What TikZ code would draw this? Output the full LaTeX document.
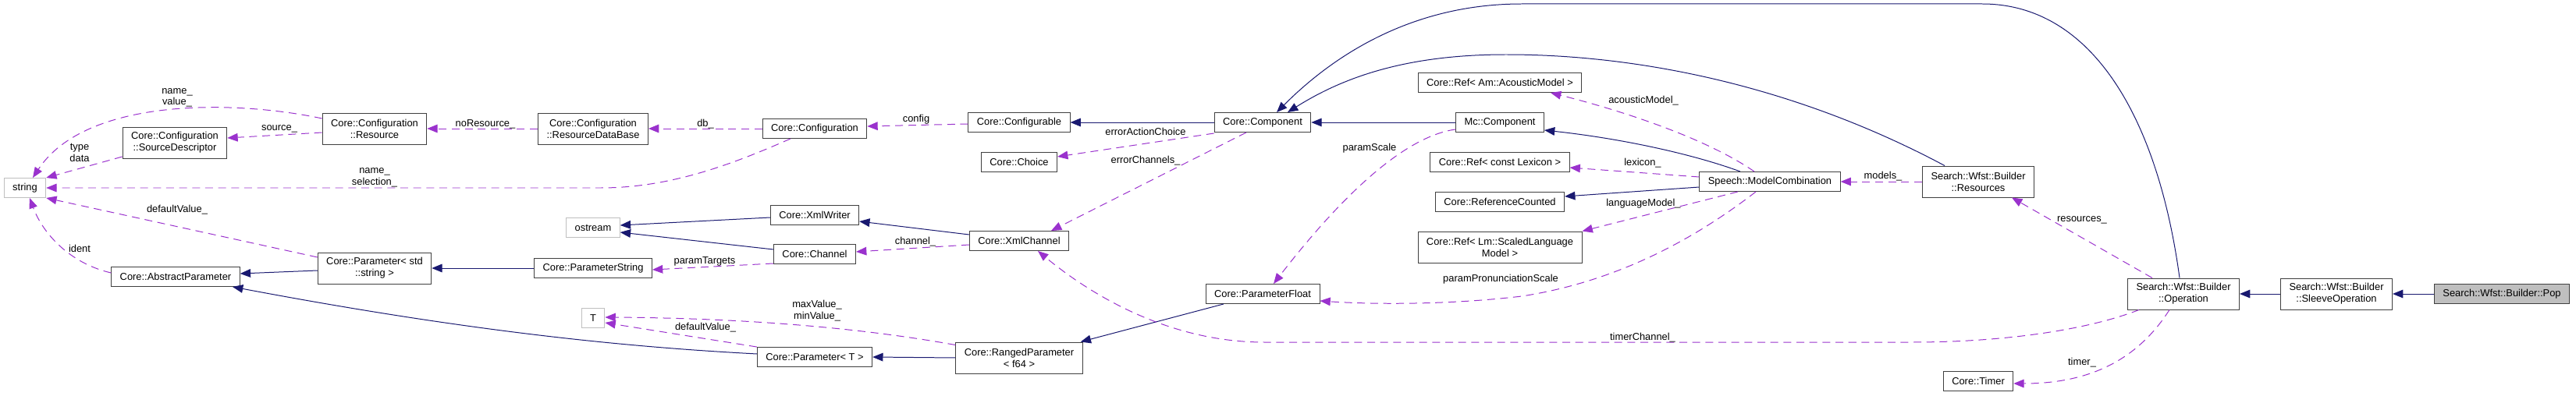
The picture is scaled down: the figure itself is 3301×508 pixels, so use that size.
\documentclass[tikz,border=0pt]{standalone}
\usepackage{fontspec}
\setmainfont{Liberation Sans}
\usepackage{tikz}
\usetikzlibrary{arrows.meta,calc}
\definecolor{Navy}{HTML}{191970}
\definecolor{Orchid}{HTML}{9A32CD}
\definecolor{Frame}{HTML}{404040}
\definecolor{Ghost}{HTML}{BFBFBF}
\definecolor{Focus}{HTML}{BFBFBF}

\begin{document}
\begin{tikzpicture}[
  x=0.03cm,y=-0.03cm,
  cls/.style={draw=Frame,line width=0.8pt,fill=white,minimum height=0.75cm,inner xsep=0.33cm,inner ysep=0.1cm,align=center,font=\fontsize{11}{12.8}\selectfont},
  two/.style={minimum height=1.2cm},
  ext/.style={cls,draw=Ghost},
  focus/.style={cls,fill=Focus},
  inh/.style={-{Triangle[length=0.4cm,width=0.32cm]},line width=0.85pt,draw=Navy},
  member/.style={-{Triangle[length=0.4cm,width=0.32cm]},line width=0.85pt,draw=Orchid,dash pattern=on 0.3cm off 0.2cm},
  lbl/.style={anchor=base,inner sep=0pt,align=center,font=\fontsize{11}{12.8}\selectfont}
]
\useasboundingbox (0,0) rectangle (3301,508);
\node[ext] (str) at (32,241) {string};
\node[cls,two] (srcdesc) at (224,183) {Core::Configuration\\::SourceDescriptor};
\node[cls,two] (res) at (480,165) {Core::Configuration\\::Resource};
\node[cls] (absparam) at (225,355) {Core::AbstractParameter};
\node[cls,two] (parstr) at (480,344) {Core::Parameter< std\\::string >};
\node[cls,two] (resdb) at (760,165) {Core::Configuration\\::ResourceDataBase};
\node[ext] (ostr) at (760,292) {ostream};
\node[cls] (parstring) at (760,344) {Core::ParameterString};
\node[ext] (tmpl) at (760,408) {T};
\node[cls] (config) at (1044,165) {Core::Configuration};
\node[cls] (xmlwriter) at (1044,276) {Core::XmlWriter};
\node[cls] (channel) at (1044,326) {Core::Channel};
\node[cls] (parT) at (1044,458) {Core::Parameter< T >};
\node[cls] (configurable) at (1306,157) {Core::Configurable};
\node[cls] (choice) at (1306,208) {Core::Choice};
\node[cls] (xmlchannel) at (1306,309) {Core::XmlChannel};
\node[cls,two] (ranged) at (1306,459) {Core::RangedParameter\\< f64 >};
\node[cls] (component) at (1618,157) {Core::Component};
\node[cls] (parfloat) at (1618,377) {Core::ParameterFloat};
\node[cls] (refam) at (1922,106) {Core::Ref< Am::AcousticModel >};
\node[cls] (mccomp) at (1922,157) {Mc::Component};
\node[cls] (reflex) at (1922,208) {Core::Ref< const Lexicon >};
\node[cls] (refcount) at (1922,259) {Core::ReferenceCounted};
\node[cls,two] (reflm) at (1922,317) {Core::Ref< Lm::ScaledLanguage\\Model >};
\node[cls] (modelcomb) at (2268,233) {Speech::ModelCombination};
\node[cls,two] (resources) at (2535,233) {Search::Wfst::Builder\\::Resources};
\node[cls,two] (operation) at (2798,377) {Search::Wfst::Builder\\::Operation};
\node[cls,two] (sleeve) at (2994,377) {Search::Wfst::Builder\\::SleeveOperation};
\node[focus] (pop) at (3206,377) {Search::Wfst::Builder::Pop};
\node[cls] (timer) at (2535,489) {Core::Timer};

\draw[inh] (pop.west) -- (sleeve.east);
\draw[inh] (sleeve.west) -- (operation.east);
\draw[inh] ($(operation.north)+(-5,0)$) .. controls (2765,150) and (2680,5) .. (2540,5) -- (1950,5) .. controls (1800,5) and (1700,80) .. ($(component.north)+(18,0)$);
\draw[inh] ($(resources.north)+(-43,0)$) .. controls (2300,110) and (2100,70) .. (1930,70) .. controls (1800,70) and (1720,100) .. ($(component.north)+(32,0)$);
\draw[inh] (mccomp.west) -- (component.east);
\draw[inh] (component.west) -- (configurable.east);
\draw[inh] ($(modelcomb.north)+(-38,0)$) .. controls (2170,198) and (2080,178) .. ($(mccomp.east)+(0,10)$);
\draw[inh] ($(modelcomb.west)+(0,7)$) -- ($(refcount.east)+(0,-7)$);
\draw[inh] ($(xmlchannel.west)+(0,-8)$) -- ($(xmlwriter.east)+(0,8)$);
\draw[inh] ($(xmlwriter.west)+(0,3)$) -- ($(ostr.east)+(0,-3)$);
\draw[inh] ($(channel.west)+(0,-6)$) -- ($(ostr.east)+(0,6)$);
\draw[inh] (parstring.west) -- (parstr.east);
\draw[inh] ($(parstr.west)+(0,3)$) -- ($(absparam.east)+(0,-4)$);
\draw[inh] ($(parT.west)+(0,-4)$) .. controls (800,445) and (600,425) .. ($(absparam.south)+(73,0)$);
\draw[inh] (ranged.west) -- (parT.east);
\draw[inh] ($(parfloat.south)+(-50,0)$) -- ($(ranged.north east)+(-3,0)$);

\draw[member] ($(res.west)+(0,-13)$) .. controls (300,128) and (110,125) .. ($(str.north)+(10,0)$);
\draw[member] ($(res.west)+(0,5)$) -- ($(srcdesc.east)+(0,-6)$);
\draw[member] ($(srcdesc.west)+(0,18)$) -- (str.north east);
\draw[member] ($(config.south)+(-31,0)$) .. controls (940,210) and (860,241) .. (770,241) -- (str.east);
\draw[member] ($(absparam.west)+(0,-5)$) .. controls (90,338) and (55,300) .. ($(str.south)+(6,0)$);
\draw[member] ($(parstr.west)+(0,-14)$) -- (str.south east);
\draw[member] (resdb.west) -- (res.east);
\draw[member] (config.west) -- (resdb.east);
\draw[member] ($(configurable.west)+(0,2)$) -- ($(config.east)+(0,-3)$);
\draw[member] ($(component.west)+(0,14)$) -- ($(choice.east)+(0,-7)$);
\draw[member] ($(component.south)+(-21,0)$) -- ($(xmlchannel.north)+(41,0)$);
\draw[member] ($(xmlchannel.west)+(0,5)$) -- ($(channel.east)+(0,-3)$);
\draw[member] ($(channel.west)+(0,12)$) -- ($(parstring.east)+(0,2)$);
\draw[member] ($(ranged.north west)+(0,4)$) .. controls (1100,420) and (950,408) .. ($(tmpl.east)+(0,-1)$);
\draw[member] (parT.north west) -- ($(tmpl.east)+(0,6)$);
\draw[member] ($(mccomp.west)+(0,9)$) .. controls (1800,175) and (1720,250) .. ($(parfloat.north)+(14,0)$);
\draw[member] ($(modelcomb.north)+(-20,0)$) .. controls (2190,180) and (2090,145) .. ($(refam.south)+(65,0)$);
\draw[member] ($(modelcomb.west)+(0,-6)$) -- ($(reflex.east)+(0,7)$);
\draw[member] ($(modelcomb.south)+(-41,0)$) -- (reflm.north east);
\draw[member] ($(modelcomb.south)+(-18,0)$) .. controls (2180,300) and (2080,360) .. (1950,380) .. controls (1850,392) and (1750,390) .. ($(parfloat.east)+(0,9)$);
\draw[member] (resources.west) -- (modelcomb.east);
\draw[member] ($(operation.north)+(-40,0)$) -- ($(resources.south)+(43,0)$);
\draw[member] ($(operation.south west)+(15,0)$) .. controls (2670,425) and (2560,439) .. (2450,439) -- (1620,439) .. controls (1500,439) and (1400,380) .. ($(xmlchannel.south)+(24,0)$);
\draw[member] ($(operation.south)+(-18,0)$) .. controls (2740,460) and (2680,492) .. ($(timer.east)+(0,3)$);

\node[lbl] (lnamevalue) at (227,135) {name\_\\value\_};
\node[lbl] (lsource) at (358,168) {source\_};
\node[lbl] (ltypedata) at (102,207) {type\\data};
\node[lbl] (lnamesel) at (480,237) {name\_\\selection\_};
\node[lbl] (ldefstr) at (227,272) {defaultValue\_};
\node[lbl] (lident) at (102,323) {ident};
\node[lbl] (lnores) at (622,162) {noResource\_};
\node[lbl] (ldb) at (904,162) {db\_};
\node[lbl] (lconfig) at (1174,157) {config};
\node[lbl] (lerrchoice) at (1468,173) {errorActionChoice};
\node[lbl] (lerrchan) at (1468,209) {errorChannels\_};
\node[lbl] (lchannel) at (1173,313) {channel\_};
\node[lbl] (ltargets) at (903,338) {paramTargets};
\node[lbl] (lminmax) at (1047,409) {maxValue\_\\minValue\_};
\node[lbl] (ldefT) at (904,423) {defaultValue\_};
\node[lbl] (lscale) at (1755,193) {paramScale};
\node[lbl] (lacoustic) at (2106,133) {acousticModel\_};
\node[lbl] (llexicon) at (2105,213) {lexicon\_};
\node[lbl] (llang) at (2106,264) {languageModel\_};
\node[lbl] (lpron) at (1923,361) {paramPronunciationScale};
\node[lbl] (ltimerchan) at (2105,436) {timerChannel\_};
\node[lbl] (lmodels) at (2413,229) {models\_};
\node[lbl] (lresources) at (2668,284) {resources\_};
\node[lbl] (ltimer) at (2668,468) {timer\_};
\end{tikzpicture}
\end{document}
